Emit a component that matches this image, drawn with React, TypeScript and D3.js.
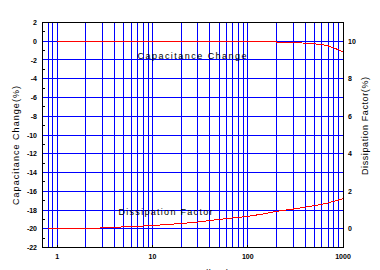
import React from "react";
import * as d3 from "d3";

const leftTicks = [2, 0, -2, -4, -6, -8, -10, -12, -14, -16, -18, -20, -22];
const rightTicks = [0, 2, 4, 6, 8, 10];
const xTickLabels = [1, 10, 100, 1000];
const xGrid = [0.8, 0.9, 1, 2, 3, 4, 5, 6, 7, 8, 9, 10, 20, 30, 40, 50, 60, 70, 80, 90, 100, 200, 300, 400, 500, 600, 700, 800, 900];

const capFreq = [1, 10, 100, 199, 200, 300, 400, 500, 600, 700, 800, 900, 1000];
const capValues = [0, 0, 0, 0, -0.12, -0.14, -0.2, -0.27, -0.36, -0.5, -0.7, -0.92, -1.14];

const dfFreq = [0.8, 2.2, 3, 5, 10, 20, 30, 50, 100, 150, 200, 300, 500, 700, 1000];
const dfValues = [0, 0, 0.05, 0.1, 0.17, 0.28, 0.36, 0.5, 0.66, 0.8, 0.93, 1.05, 1.23, 1.38, 1.6];

const W = 380, H = 270;
const L = 42.5, R = 343, T = 22.5, B = 247.5;
const px = (v: number) => Math.floor(v) + 0.5;

export default function App() {
  const x = d3.scaleLog().domain([0.7, 1000]).range([L, R]);
  const yL = d3.scaleLinear().domain([-22, 2]).range([B, T]);
  const yR = d3.scaleLinear().domain([-1, 11]).range([B, T]);

  const capLine = d3.line<number>().x((_, i) => x(capFreq[i])).y((d) => yL(d));
  const dfLine = d3.line<number>().x((_, i) => x(dfFreq[i])).y((d) => yR(d));

  const minor = d3.range(-21, 2, 2);
  const tickFont = "'Liberation Sans', Arial, sans-serif";

  return (
    <svg width={W} height={H} style={{ position: "absolute", left: 0, top: 0, background: "#fff" }}>
      <rect x={0} y={0} width={W} height={H} fill="#fff" />
      {/* vertical grid */}
      {xGrid.map((f) => (
        <line key={"vx" + f} x1={px(x(f))} x2={px(x(f))} y1={T} y2={B} stroke="#0000ff" strokeWidth={1} shapeRendering="crispEdges" />
      ))}
      {/* horizontal grid */}
      {leftTicks.filter((v) => v > -22 && v < 2).map((v) => (
        <line key={"hy" + v} x1={L} x2={R} y1={px(yL(v))} y2={px(yL(v))} stroke="#0000ff" strokeWidth={1} shapeRendering="crispEdges" />
      ))}
      {/* curves */}
      <path d={dfLine(dfValues) || ""} fill="none" stroke="#ff0000" strokeWidth={1} shapeRendering="crispEdges" />
      <path d={capLine(capValues) || ""} fill="none" stroke="#ff0000" strokeWidth={1} shapeRendering="crispEdges" />
      {/* frame */}
      <rect x={L} y={T} width={R - L} height={B - T} fill="none" stroke="#000" strokeWidth={1} shapeRendering="crispEdges" />
      {/* minor ticks left */}
      {minor.map((v) => (
        <line key={"mt" + v} x1={L} x2={L + 2.5} y1={px(yL(v))} y2={px(yL(v))} stroke="#000" strokeWidth={1} shapeRendering="crispEdges" />
      ))}
      {/* bottom ticks */}
      {xTickLabels.slice(0, 3).map((f) => (
        <line key={"bt" + f} x1={px(x(f))} x2={px(x(f))} y1={B} y2={B - 3} stroke="#000" strokeWidth={1} shapeRendering="crispEdges" />
      ))}
      {/* left tick labels */}
      {leftTicks.map((v) => (
        <text key={"lt" + v} x={37} y={yL(v) + 2.5} textAnchor="end" fontFamily={tickFont} fontWeight="bold" fontSize={7} fill="#000">
          {v}
        </text>
      ))}
      {/* right tick labels */}
      {rightTicks.map((v) => (
        <text key={"rt" + v} x={348} y={yR(v) + 2.5} textAnchor="start" fontFamily={tickFont} fontWeight="bold" fontSize={7} fill="#000">
          {v}
        </text>
      ))}
      {/* bottom tick labels */}
      {xTickLabels.map((f) => (
        <text key={"xt" + f} x={x(f)} y={259} textAnchor="middle" fontFamily={tickFont} fontWeight="bold" fontSize={7} fill="#000">
          {f}
        </text>
      ))}
      {/* axis titles */}
      <text transform="translate(18.5,145.5) rotate(-90)" textAnchor="middle" fontFamily={tickFont} fontSize={9} fill="#000" textLength={119} lengthAdjust="spacing">
        Capacitance Change(%)
      </text>
      <text transform="translate(368,126) rotate(-90)" textAnchor="middle" fontFamily={tickFont} fontSize={9} fill="#000" textLength={98} lengthAdjust="spacing">
        Dissipation Factor(%)
      </text>
      <text x={157} y={276} fontFamily={tickFont} fontSize={9} fill="#000" textLength={72} lengthAdjust="spacing">
        Frequency(kHz)
      </text>
      {/* series labels */}
      <text x={137.5} y={59} fontFamily={tickFont} fontSize={9} fill="#000" textLength={109} lengthAdjust="spacing">
        Capacitance Change
      </text>
      <text x={118.5} y={215} fontFamily={tickFont} fontSize={9} fill="#000" textLength={94} lengthAdjust="spacing">
        Dissipation Factor
      </text>
    </svg>
  );
}
